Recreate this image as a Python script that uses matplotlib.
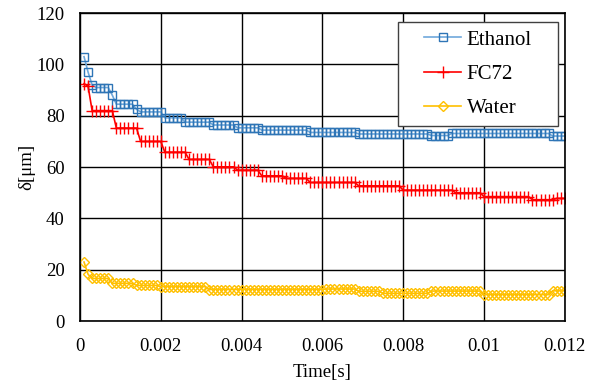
import numpy as np
import matplotlib
matplotlib.use("Agg")
import matplotlib.pyplot as plt
from matplotlib.patches import Rectangle

plt.rcParams['font.family'] = ['Liberation Serif', 'DejaVu Serif']

# sampling times: one frame every 0.1 ms
time = np.arange(1, 121) * 1e-4

ethanol = ([103, 97, 92] + [91] * 4 + [88] + [84.5] * 5 + [82.5] + [81.5] * 6
           + [79.2] * 5 + [77.5] * 7 + [76.4] * 6 + [75.3] * 6 + [74.4] * 12
           + [73.5] * 12 + [72.9] * 18 + [72.3] * 5 + [73.1] * 25 + [72.1] * 4)

fc72 = ([92.5, 91.5] + [82] * 6 + [75.2] * 6 + [70] * 6 + [65.8] * 6 + [63] * 6
        + [60.1] * 6 + [58.8] * 6 + [56.6] * 6 + [55.6] * 6 + [54] * 12
        + [52.7] * 11 + [51] * 13 + [50] * 7 + [48.5] * 12 + [47.3] * 6 + [47.8] * 3)

water = ([23, 18.2] + [16.6] * 5 + [14.7] * 6 + [13.9] * 6 + [13.4] * 12
         + [12.3] * 29 + [12.5] * 8 + [11.6] * 6 + [10.8] * 12 + [11.7] * 13
         + [10.3] * 17 + [11.8] * 4)

xticks = [0, 0.002, 0.004, 0.006, 0.008, 0.01, 0.012]
xticklabels = ['0', '0.002', '0.004', '0.006', '0.008', '0.01', '0.012']
yticks = [0, 20, 40, 60, 80, 100, 120]

fig = plt.figure(figsize=(5.97, 3.85), dpi=100)
ax = fig.add_axes([0.134, 0.166, 0.812, 0.800])

ax.plot(time, ethanol, color='#6FA8DC', lw=1.2, marker='s', ms=5.5, mfc='none',
        mec='#2E75B6', mew=1, label='Ethanol')
ax.plot(time, fc72, color='#FF0000', lw=1.2, marker='+', ms=9, mew=1,
        label='FC72')
ax.plot(time, water, color='#FFC000', lw=1.2, marker='D', ms=5, mfc='none',
        mec='#FFC000', mew=1, label='Water')

ax.set_xlim(0, 0.012)
ax.set_ylim(0, 120)
ax.set_xticks(xticks)
ax.set_xticklabels(xticklabels)
ax.set_yticks(yticks)
ax.tick_params(length=0, labelsize=13.5, pad=12)
ax.tick_params(axis='y', pad=11)
ax.grid(True, color='black', lw=1)
ax.set_axisbelow(True)
for s in ax.spines.values():
    s.set_color('black')
    s.set_linewidth(1.2)

ax.set_xlabel('Time[s]', fontsize=13.5, labelpad=7)
ax.set_ylabel('δ[μm]', fontsize=13.5, labelpad=1)

# legend box drawn by hand so it can be wider than the entries
box = Rectangle((0.656, 0.633), 0.330, 0.338, transform=ax.transAxes,
                facecolor='white', edgecolor='#404040', lw=1, zorder=5)
ax.add_patch(box)
leg = ax.legend(loc='center', bbox_to_anchor=(0.821, 0.802), fontsize=15,
                frameon=False, handlelength=1.78, handletextpad=0.25,
                labelspacing=0.7, borderpad=0, borderaxespad=0)
leg.set_zorder(6)

fig.savefig('out.png', dpi=100)
